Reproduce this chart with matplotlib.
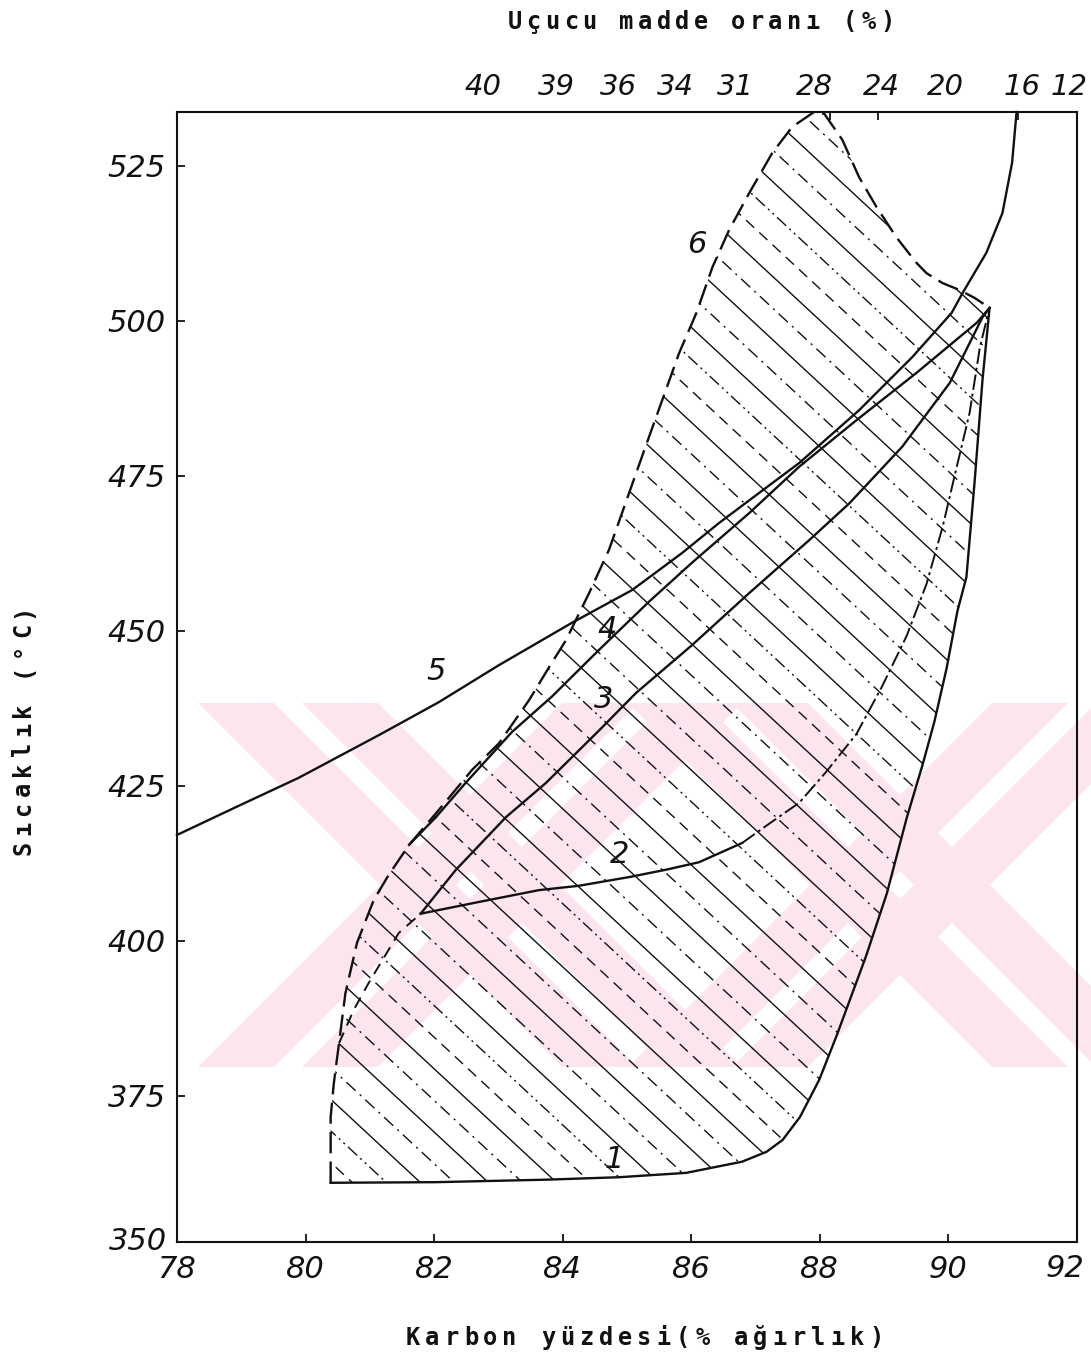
import numpy as np
import matplotlib
matplotlib.use("Agg")
import matplotlib.pyplot as plt
from matplotlib.patches import Polygon

W, H, DPI = 1091, 1357, 100

# curve 1 (lower and right boundary of the coking zone)
c1_carbon = [80.39, 82.03, 83.74, 84.88, 85.92, 86.79, 87.17, 87.42, 87.69, 87.99, 88.26,
             88.72, 89.04, 89.35, 89.60, 89.78, 89.97, 90.14, 90.28, 90.41, 90.53, 90.64]
c1_temp = [361.0, 361.1, 361.5, 361.9, 362.6, 364.4, 366.0, 367.9, 371.6, 377.6, 384.7,
           397.6, 407.6, 419.8, 428.5, 435.3, 443.9, 453.2, 458.7, 474.4, 490.5, 502.1]

# curve 2
c2_carbon = [81.79, 82.70, 83.63, 84.25, 85.03, 85.61, 86.12, 86.79, 87.21, 87.68, 88.10,
             88.57, 88.97, 89.35, 89.66, 89.91, 90.13, 90.33, 90.49, 90.64]
c2_temp = [404.4, 406.3, 408.2, 408.9, 410.3, 411.5, 412.7, 415.8, 418.9, 422.3, 427.3,
           433.4, 441.1, 449.2, 457.6, 466.8, 476.5, 485.2, 495.8, 502.1]
c2_solid_until = 8

# curve 3
c3_carbon = [81.79, 82.34, 83.12, 83.74, 84.57, 85.14, 86.01, 86.90, 87.84, 88.46, 89.28,
             90.02, 90.53, 90.64]
c3_temp = [404.4, 411.5, 420.0, 425.5, 434.0, 440.0, 447.7, 456.1, 464.7, 470.6, 479.7,
           490.0, 500.6, 502.1]

# curve 4
c4_carbon = [81.61, 82.03, 82.49, 83.21, 83.83, 84.56, 85.34, 86.01, 86.90, 87.68, 88.57,
             89.50, 90.44, 90.64]
c4_temp = [415.5, 420.0, 425.5, 433.7, 439.4, 446.9, 454.7, 461.0, 469.0, 476.5, 484.0,
           491.6, 499.7, 502.1]

# curve 5
c5_carbon = [78.0, 78.96, 79.89, 81.14, 82.07, 83.01, 84.14, 85.08, 85.86, 86.43, 87.06,
             87.68, 88.61, 89.44, 90.05, 90.22, 90.59, 90.84, 90.99, 91.06]
c5_temp = [417.1, 421.8, 426.3, 433.2, 438.5, 444.5, 451.3, 456.6, 462.6, 467.4, 472.3,
           477.1, 485.6, 494.2, 501.3, 504.5, 511.0, 517.4, 525.5, 533.7]

# curve 6 (dashed envelope)
c6_carbon = [80.39, 80.39, 80.44, 80.52, 80.62, 80.80, 81.06, 81.29, 81.61, 82.07, 82.59,
             83.01, 83.48, 83.79, 84.05, 84.41, 84.72, 85.27, 85.81, 86.08, 86.33, 86.59,
             86.90, 87.26, 87.57, 87.91, 88.07, 88.35, 88.61, 88.88, 89.19, 89.50, 89.66,
             89.91, 90.17, 90.41, 90.64]
c6_temp = [361.0, 371.6, 377.1, 383.5, 391.6, 399.7, 406.6, 410.6, 415.5, 421.1, 427.6,
           431.9, 438.9, 444.2, 448.5, 456.1, 463.1, 479.2, 494.8, 501.3, 508.7, 514.7,
           520.6, 527.1, 531.3, 533.7, 533.4, 529.2, 523.2, 518.4, 513.5, 509.4, 507.7,
           506.1, 505.0, 503.7, 502.1]
c6b_carbon = [80.52, 80.75, 80.98, 81.45, 81.79]
c6b_temp = [383.5, 388.9, 393.2, 401.3, 404.4]

curve_labels = ["1", "2", "3", "4", "5", "6"]
label_carbon = [84.80, 84.88, 84.64, 84.69, 82.03, 86.08]
label_temp = [364.7, 413.9, 438.9, 450.2, 443.4, 512.3]

x_ticks = [78, 80, 82, 84, 86, 88, 90, 92]
y_ticks = [375, 400, 425, 450, 475, 500, 525]
volatile_labels = ["40", "39", "36", "34", "31", "28", "24", "20", "16", "12"]
volatile_pos = [82.76, 83.90, 84.86, 85.75, 86.68, 87.91, 88.96, 89.95, 91.15, 91.88]
top_tick_pos = [83.90, 85.75, 88.15, 88.91, 89.95, 91.08]

INK = "#111111"
PINK = "#fce6eb"


def fx(px):
    return px / W


def fy(py):
    return 1 - py / H


def mono(fig, s, x0, y0, pitch, vertical=False, size=17):
    # typewriter style: one glyph per fixed cell
    for i, ch in enumerate(s):
        if vertical:
            fig.text(fx(x0), fy(y0 - i * pitch), ch, rotation=90, rotation_mode="anchor",
                     ha="center", va="baseline", family="DejaVu Sans Mono",
                     fontweight="bold", fontsize=size, color=INK)
        else:
            fig.text(fx(x0 + i * pitch), fy(y0), ch, ha="center", va="baseline",
                     family="DejaVu Sans Mono", fontweight="bold", fontsize=size, color=INK)


def watermark(fig):
    top, bot = 703, 1067
    for cx in (470, 900):
        for sgn in (1, -1):
            for off, hw in ((-52, 38), (52, 38)):
                c = cx + off
                xt = c + sgn * (top - 885)
                xb = c + sgn * (bot - 885)
                pts = [(xt - hw, top), (xt + hw, top), (xb + hw, bot), (xb - hw, bot)]
                fig.add_artist(Polygon([(fx(a), fy(b)) for a, b in pts], closed=True,
                                       transform=fig.transFigure, facecolor=PINK,
                                       edgecolor="none", zorder=0))


fig = plt.figure(figsize=(W / DPI, H / DPI), dpi=DPI)
watermark(fig)
ax = fig.add_axes([177 / W, 1 - 1242 / H, 900 / W, 1130 / H])
ax.set_facecolor("none")
ax.set_xlim(78, 92)
ax.set_ylim(351.45, 533.7)

# hatching of the shaded field, mixed line styles
region = Polygon(list(zip(c1_carbon, c1_temp)) + list(zip(c6_carbon[::-1], c6_temp[::-1])),
                 closed=True, facecolor="none", edgecolor="none", transform=ax.transData)
ax.add_patch(region)
styles = ["-", (0, (9, 4, 1.5, 4)), "-", (0, (8, 5)), (0, (9, 3, 1.5, 3, 1.5, 3)), "-",
          (0, (9, 4, 1.5, 4))]
slope = -9.63
xs = np.array([78.0, 92.0])
for i, b in enumerate(np.arange(372, 670, 5.1)):
    ln, = ax.plot(xs, b + slope * (xs - 78), color=INK, lw=1.0,
                  linestyle=styles[i % len(styles)], zorder=2)
    ln.set_clip_path(region)

lw = 1.7
ax.plot(c1_carbon, c1_temp, color=INK, lw=lw, zorder=3)
ax.plot(c2_carbon[:c2_solid_until], c2_temp[:c2_solid_until], color=INK, lw=lw, zorder=3)
ax.plot(c2_carbon[c2_solid_until - 1:], c2_temp[c2_solid_until - 1:], color=INK, lw=1.4,
        linestyle=(0, (8, 2, 1.5, 2)), zorder=3)
ax.plot(c3_carbon, c3_temp, color=INK, lw=lw, zorder=3)
ax.plot(c4_carbon, c4_temp, color=INK, lw=lw, zorder=3)
ax.plot(c5_carbon, c5_temp, color=INK, lw=lw, zorder=3, clip_on=False)
ax.plot(c6_carbon, c6_temp, color=INK, lw=lw, linestyle=(0, (9, 3.5)), zorder=3)
ax.plot(c6b_carbon, c6b_temp, color=INK, lw=1.4, linestyle=(0, (6, 4)), zorder=3)

for lab, cx, cy in zip(curve_labels, label_carbon, label_temp):
    ax.text(cx, cy, lab, ha="center", va="center", fontsize=22, fontstyle="italic",
            color=INK, zorder=4)

for s in ax.spines.values():
    s.set_linewidth(1.5)
    s.set_color(INK)

# last bottom label is pulled inside the picture, as in the original
ax.set_xticks(x_ticks)
ax.set_xticklabels([str(v) for v in x_ticks[:-1]] + [""], fontstyle="italic")
ax.text(91.82, -0.0235, str(x_ticks[-1]), transform=ax.get_xaxis_transform(), ha="center",
        va="center", fontsize=22, fontstyle="italic", color=INK, clip_on=False)
ax.set_yticks(y_ticks)
ax.set_yticklabels([str(v) for v in y_ticks], fontstyle="italic")
ax.tick_params(direction="in", length=6, width=1.3, labelsize=22, colors=INK)
ax.tick_params(axis="x", pad=9)
ax.tick_params(axis="y", pad=8)
ax.text(77.85, 351.45, "350", ha="right", va="center", fontsize=22, fontstyle="italic",
        color=INK, transform=ax.transData, clip_on=False)

top = ax.twiny()
top.set_xlim(78, 92)
top.set_xticks(volatile_pos)
top.set_xticklabels(volatile_labels, fontstyle="italic")
top.set_xticks(top_tick_pos, minor=True)
top.tick_params(axis="x", which="major", length=0, pad=8, labelsize=21, colors=INK)
top.tick_params(axis="x", which="minor", direction="in", length=6, width=1.3, colors=INK)
for s in top.spines.values():
    s.set_visible(False)

mono(fig, "Karbon yüzdesi(% ağırlık)", 413, 1345, 19.3)
mono(fig, "Uçucu madde oranı (%)", 515, 29, 18.6)
mono(fig, "Sıcaklık (°C)", 30, 848, 19.8, vertical=True)

fig.savefig("out.png", dpi=DPI)
